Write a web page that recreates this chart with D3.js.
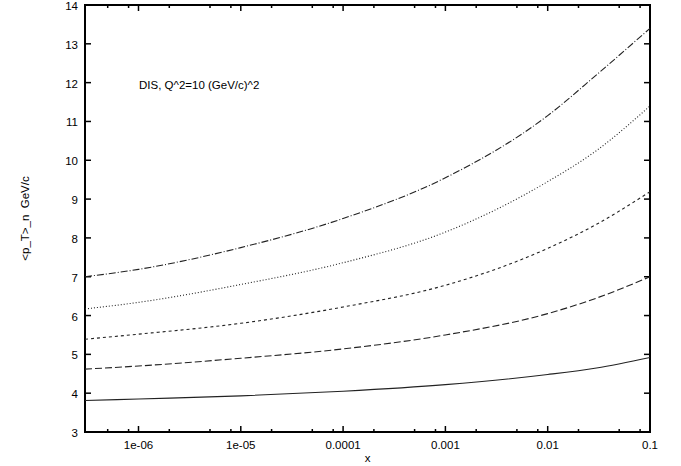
<!DOCTYPE html>
<html>
<head>
<meta charset="utf-8">
<script src="https://cdn.jsdelivr.net/npm/d3@7.9.0/dist/d3.min.js"></script>
<style>
  body { margin: 0; background: #fff; }
  text { font-family: "Liberation Sans", Arial, sans-serif; fill: #000; }
</style>
</head>
<body>
<div id="chart"></div>
<script>
// x positions (Bjorken x) and <p_T>_n values
const xs = [3e-7, 1e-6, 1e-5, 1e-4, 1e-3, 1e-2, 3e-2, 0.1];
const n1 = [3.81, 3.85, 3.93, 4.05, 4.22, 4.48, 4.65, 4.92];
const n2 = [4.62, 4.70, 4.90, 5.14, 5.50, 6.05, 6.45, 7.00];
const n3 = [5.39, 5.52, 5.80, 6.22, 6.78, 7.73, 8.35, 9.19];
const n4 = [6.17, 6.34, 6.80, 7.36, 8.15, 9.45, 10.25, 11.40];
const n5 = [7.00, 7.19, 7.75, 8.50, 9.55, 11.15, 12.2, 13.40];

const series = [
  { values: n1, dash: null },
  { values: n2, dash: '7,3' },
  { values: n3, dash: '3,3' },
  { values: n4, dash: '1,2' },
  { values: n5, dash: '7,2,1,2' },
];

const xMajor = [1e-6, 1e-5, 1e-4, 1e-3, 1e-2, 1e-1];
const xMajorLabels = ['1e-06', '1e-05', '0.0001', '0.001', '0.01', '0.1'];
const yTicks = d3.range(3, 15);

const width = 681, height = 466;
const margin = { top: 5, right: 31, bottom: 34, left: 85 };

const svg = d3.select('#chart').append('svg')
  .attr('width', width)
  .attr('height', height);

const xScale = d3.scaleLog()
  .domain([3e-7, 0.1])
  .range([margin.left, width - margin.right]);

const yScale = d3.scaleLinear()
  .domain([3, 14])
  .range([height - margin.bottom, margin.top]);

const pLeft = margin.left, pRight = width - margin.right;
const pTop = margin.top, pBottom = height - margin.bottom;

// minor ticks at 2, 5, 8 of each decade
const xMinor = [];
for (let e = -7; e <= -2; e++) {
  [2, 5, 8].forEach((m) => {
    const v = m * Math.pow(10, e);
    if (v > 3e-7 && v < 0.1) xMinor.push(v);
  });
}

const ticks = svg.append('g').attr('stroke', '#000').attr('stroke-width', 1.5);

ticks.selectAll('.xmaj').data(xMajor).join('line')
  .attr('x1', (d) => xScale(d)).attr('x2', (d) => xScale(d))
  .attr('y1', pBottom).attr('y2', pBottom - 6);
ticks.selectAll('.xmajt').data(xMajor).join('line')
  .attr('x1', (d) => xScale(d)).attr('x2', (d) => xScale(d))
  .attr('y1', pTop).attr('y2', pTop + 6);
ticks.selectAll('.xmin').data(xMinor).join('line')
  .attr('x1', (d) => xScale(d)).attr('x2', (d) => xScale(d))
  .attr('y1', pBottom).attr('y2', pBottom - 3);
ticks.selectAll('.xmint').data(xMinor).join('line')
  .attr('x1', (d) => xScale(d)).attr('x2', (d) => xScale(d))
  .attr('y1', pTop).attr('y2', pTop + 3);

ticks.selectAll('.yl').data(yTicks).join('line')
  .attr('x1', pLeft).attr('x2', pLeft + 6)
  .attr('y1', (d) => yScale(d)).attr('y2', (d) => yScale(d));
ticks.selectAll('.yr').data(yTicks).join('line')
  .attr('x1', pRight).attr('x2', pRight - 6)
  .attr('y1', (d) => yScale(d)).attr('y2', (d) => yScale(d));

// frame
svg.append('rect')
  .attr('x', pLeft).attr('y', pTop)
  .attr('width', pRight - pLeft).attr('height', pBottom - pTop)
  .attr('fill', 'none').attr('stroke', '#000').attr('stroke-width', 2);

// tick labels
svg.append('g').selectAll('text').data(yTicks).join('text')
  .attr('x', pLeft - 7)
  .attr('y', (d) => yScale(d) + 1)
  .attr('dy', '0.35em')
  .attr('text-anchor', 'end')
  .style('font-size', '11.5px')
  .text((d) => d);

svg.append('g').selectAll('text').data(xMajor).join('text')
  .attr('x', (d) => xScale(d))
  .attr('y', pBottom + 17)
  .attr('text-anchor', 'middle')
  .style('font-size', '11.5px')
  .text((d, i) => xMajorLabels[i]);

// axis titles
svg.append('text')
  .attr('x', (pLeft + pRight) / 2)
  .attr('y', pBottom + 30)
  .attr('text-anchor', 'middle')
  .style('font-size', '11.5px')
  .text('x');

svg.append('text')
  .attr('transform', `translate(29, ${(pTop + pBottom) / 2}) rotate(-90)`)
  .attr('text-anchor', 'middle')
  .style('font-size', '11.5px')
  .text('<p_T>_n\u00a0\u00a0GeV/c');

svg.append('text')
  .attr('x', 139)
  .attr('y', 89)
  .style('font-size', '11.5px')
  .text('DIS, Q^2=10 (GeV/c)^2');

// curves
const line = d3.line()
  .x((d, i) => xScale(xs[i]))
  .y((d) => yScale(d))
  .curve(d3.curveMonotoneX);

svg.append('g').selectAll('path').data(series).join('path')
  .attr('d', (s) => line(s.values))
  .attr('fill', 'none')
  .attr('stroke', '#222')
  .attr('stroke-width', 1.1)
  .attr('stroke-dasharray', (s) => s.dash);
</script>
</body>
</html>
